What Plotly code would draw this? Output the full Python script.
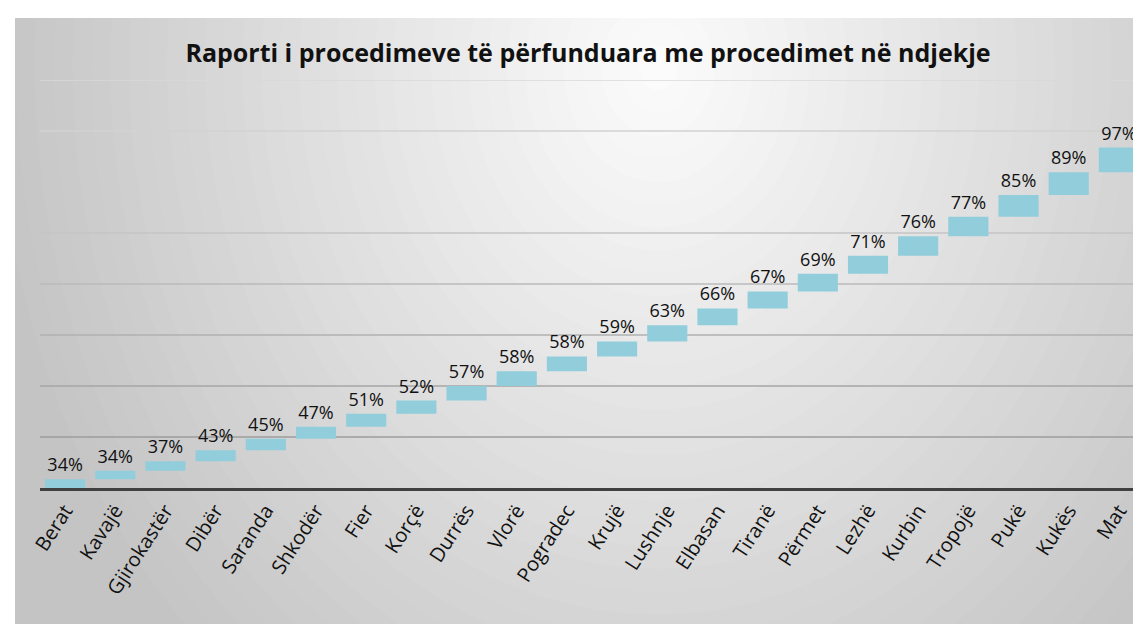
import plotly.graph_objects as go

cities = ["Berat", "Kavajë", "Gjirokastër", "Dibër", "Saranda", "Shkodër", "Fier",
          "Korçë", "Durrës", "Vlorë", "Pogradec", "Krujë", "Lushnje", "Elbasan",
          "Tiranë", "Përmet", "Lezhë", "Kurbin", "Tropojë", "Pukë", "Kukës", "Mat"]
values = [34, 34, 37, 43, 45, 47, 51, 52, 57, 58, 58, 59, 63, 66, 67, 69, 71, 76,
          77, 85, 89, 97]
labels = [f"{v}%" for v in values]
title_text = "Raporti i procedimeve të përfunduara me procedimet në ndjekje"

W, H = 1141, 624
L, R, T, B = 32, 5, 72, 144
pw, ph = W - L - R, H - T - B


def px_x(px):
    return (px - L) / pw


def px_y(py):
    return (H - B - py) / ph


fig = go.Figure()
fig.add_trace(go.Waterfall(
    x=cities,
    y=values,
    measure=["relative"] * len(values),
    text=labels,
    textposition="outside",
    outsidetextfont=dict(family="Open Sans", size=18, color="#111111"),
    constraintext="none",
    cliponaxis=False,
    connector=dict(visible=False),
    increasing=dict(marker=dict(color="#92cddc", line=dict(width=0))),
    hoverinfo="x+text",
))

shapes = []
# base fill (edge colour of the radial gradient)
shapes.append(dict(type="rect", xref="paper", yref="paper",
                   x0=px_x(0), x1=px_x(W), y0=px_y(H), y1=px_y(0),
                   fillcolor="rgb(196,196,196)", line=dict(width=0), layer="below"))
# radial gradient background built from concentric ellipses
cx, cy = 650, 60
rx, ry = 680, 820
N = 36
c_edge, c_center = 196, 251
for i in range(N):
    t = 1 - i / N
    g = round(c_edge + (c_center - c_edge) * (i / (N - 1)))
    col = f"rgb({g},{g},{g})"
    shapes.append(dict(type="circle", xref="paper", yref="paper",
                       x0=px_x(cx - rx * t), x1=px_x(cx + rx * t),
                       y0=px_y(cy + ry * t), y1=px_y(cy - ry * t),
                       fillcolor=col, line=dict(width=0), layer="below"))
# white outer strips
for (x0, x1, y0, y1) in [(-5, 7, -5, H + 5), (-5, W + 5, -5, 10), (1137, W + 5, -5, H + 5)]:
    shapes.append(dict(type="rect", xref="paper", yref="paper",
                       x0=px_x(x0), x1=px_x(x1), y0=px_y(y1), y1=px_y(y0),
                       fillcolor="white", line=dict(width=0), layer="below"))

# horizontal gridlines with the reference's fading tones
grid_levels = [200, 400, 600, 800, 1000, 1400, 1600]
grid_colors = ["#9c9c9c", "#a6a6a6", "#b0b0b0", "#bababa", "#c4c4c4", "#d2d2d2", "#d8d8d8"]
for lv, gc in zip(grid_levels, grid_colors):
    shapes.append(dict(type="line", xref="paper", yref="y", x0=0, x1=1, y0=lv, y1=lv,
                       line=dict(color=gc, width=1.5), layer="below"))

fig.update_layout(
    width=W, height=H,
    margin=dict(l=L, r=R, t=T, b=B, autoexpand=False),
    paper_bgcolor="white",
    plot_bgcolor="rgba(0,0,0,0)",
    showlegend=False,
    bargap=0.24,
    shapes=shapes,
    title=dict(text=title_text, x=580 / W, xanchor="center", y=1 - 45 / H,
               yanchor="middle", automargin=False,
               font=dict(family="Open Sans", size=25, color="#111111", weight="bold")),
    xaxis=dict(showgrid=False, showline=True, linecolor="#404040", linewidth=3,
               ticks="", tickangle=-57, automargin=False,
               tickfont=dict(family="Open Sans", size=20, color="#111111")),
    yaxis=dict(range=[0, 1600], dtick=200, showgrid=False, automargin=False,
               showticklabels=False, zeroline=False, ticks=""),
)

fig.write_html("out.html")
